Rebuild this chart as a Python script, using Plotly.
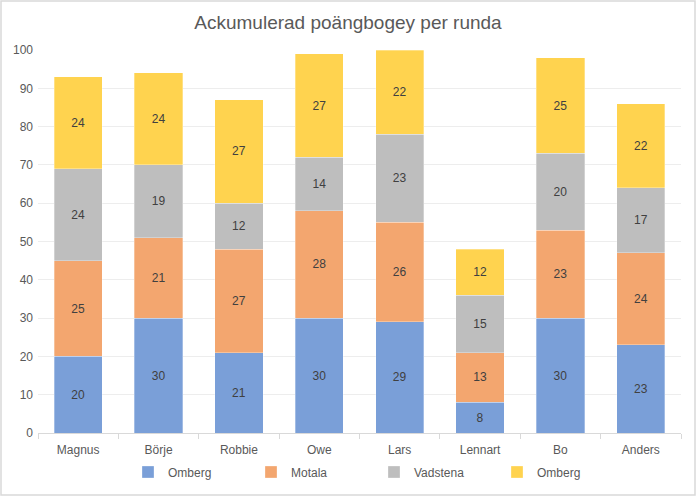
import plotly.graph_objects as go

# spelare och poäng per bana
spelare = ["Magnus", "Börje", "Robbie", "Owe", "Lars", "Lennart", "Bo", "Anders"]
omberg1 = [20, 30, 21, 30, 29, 8, 30, 23]
motala = [25, 21, 27, 28, 26, 13, 23, 24]
vadstena = [24, 19, 12, 14, 23, 15, 20, 17]
omberg2 = [24, 24, 27, 27, 22, 12, 25, 22]

serier = [
    ("Omberg", omberg1, "#7A9FD8"),
    ("Motala", motala, "#F3A66F"),
    ("Vadstena", vadstena, "#BEBEBE"),
    ("Omberg", omberg2, "#FFD34F"),
]

fig = go.Figure()
for namn, varden, farg in serier:
    fig.add_trace(go.Bar(
        x=spelare, y=varden, name=namn,
        marker=dict(color=farg, line=dict(color="rgba(255,255,255,0.5)", width=0.6)),
        text=varden, textposition="inside", insidetextanchor="middle",
        textfont=dict(color="#404040", size=12),
        constraintext="none",
    ))

fig.update_layout(
    barmode="stack",
    bargap=0.4,
    width=696, height=496,
    margin=dict(l=38, r=15, t=50, b=63, autoexpand=False),
    paper_bgcolor="white",
    plot_bgcolor="white",
    font=dict(family="Liberation Sans, Arial", color="#595959", size=12),
    title=dict(text="Ackumulerad poängbogey per runda", x=0.5, xanchor="center",
               yref="container", y=1 - 22 / 496, yanchor="middle",
               font=dict(size=19, color="#595959")),
    legend=dict(orientation="h", xref="container", x=128 / 696, xanchor="left",
                yref="container", y=1 - 472 / 496, yanchor="middle",
                traceorder="normal", font=dict(size=12, color="#595959"),
                itemwidth=30, entrywidth=78, entrywidthmode="pixels"),
    uniformtext=dict(minsize=12, mode="show"),
    shapes=[dict(type="rect", xref="paper", yref="paper",
                 x0=-37/643, x1=1+14/643, y0=-62/383, y1=1+49/383,
                 line=dict(color="#D9D9D9", width=1.5))],
)
fig.update_xaxes(
    showline=True, linecolor="#D9D9D9", linewidth=1,
    ticks="outside", tickson="boundaries", ticklen=5, tickcolor="#D9D9D9",
    tickfont=dict(size=12, color="#595959"), ticklabelstandoff=6,
)
fig.update_yaxes(
    range=[0, 100], dtick=10, showgrid=True, gridcolor="#EDEDED",
    zeroline=False, tickfont=dict(size=12, color="#595959"),
    ticklabelstandoff=4,
)

fig.write_html("out.html", config={"displayModeBar": False},
               post_script="document.body.style.margin='0px';")
